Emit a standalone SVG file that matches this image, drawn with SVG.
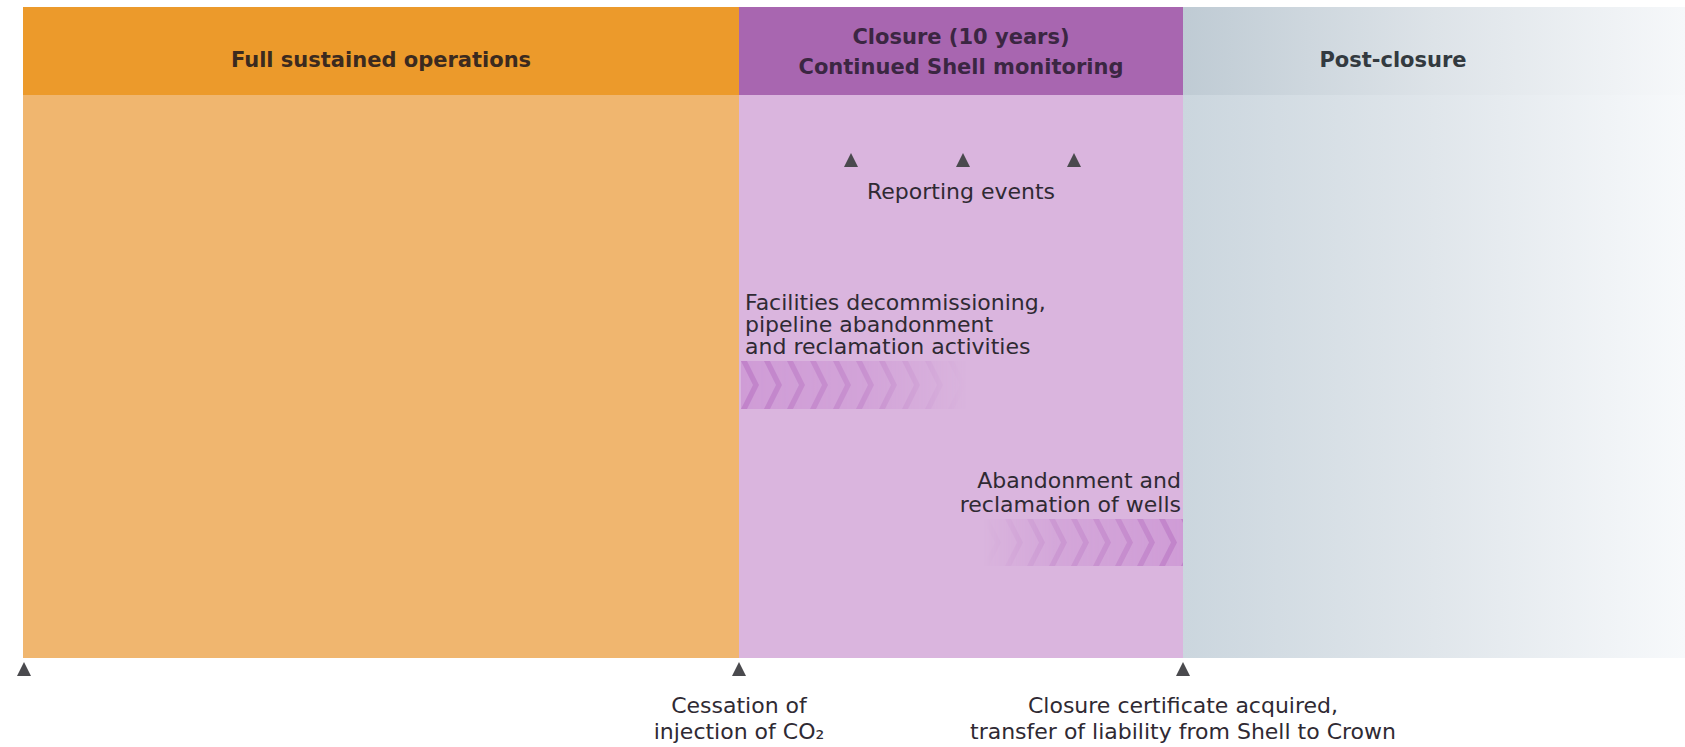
<svg xmlns="http://www.w3.org/2000/svg" width="1685" height="747" viewBox="0 0 1685 747">
  <style>
    .hdr { font-family: "DejaVu Sans", "Liberation Sans", sans-serif; font-weight: bold; font-size: 21px; text-anchor: middle; }
    .body { font-family: "DejaVu Sans", "Liberation Sans", sans-serif; font-size: 22px; fill: #2f2a33; }
    .mid { text-anchor: middle; }
    .end { text-anchor: end; }
    .tick { fill: #4a4a4e; }
  </style>
  <defs>
    <linearGradient id="postHead" x1="0" y1="0" x2="1" y2="0">
      <stop offset="0" stop-color="#bfcbd4"/>
      <stop offset="0.5" stop-color="#dde3e8"/>
      <stop offset="1" stop-color="#f6f8fa"/>
    </linearGradient>
    <linearGradient id="postBody" x1="0" y1="0" x2="1" y2="0">
      <stop offset="0" stop-color="#cbd6de"/>
      <stop offset="0.5" stop-color="#e0e6eb"/>
      <stop offset="1" stop-color="#f7f9fb"/>
    </linearGradient>
    <linearGradient id="fadeRight" x1="0" y1="0" x2="1" y2="0">
      <stop offset="0" stop-color="#fff" stop-opacity="1"/>
      <stop offset="0.55" stop-color="#fff" stop-opacity="0.7"/>
      <stop offset="1" stop-color="#fff" stop-opacity="0"/>
    </linearGradient>
    <linearGradient id="fadeLeft" x1="0" y1="0" x2="1" y2="0">
      <stop offset="0" stop-color="#fff" stop-opacity="0"/>
      <stop offset="0.35" stop-color="#fff" stop-opacity="0.55"/>
      <stop offset="1" stop-color="#fff" stop-opacity="1"/>
    </linearGradient>
    <pattern id="chevA" x="741" y="361" width="23" height="48" patternUnits="userSpaceOnUse">
      <rect width="23" height="48" fill="#cf9cd6"/>
      <polygon points="0,0 6,0 18,24 6,48 0,48 12,24" fill="#c183ca"/>
    </pattern>
    <pattern id="chevB" x="983" y="519" width="22" height="47" patternUnits="userSpaceOnUse">
      <rect width="22" height="47" fill="#cf9cd6"/>
      <polygon points="0,0 6,0 18,23.5 6,47 0,47 12,23.5" fill="#c183ca"/>
    </pattern>
    <mask id="maskA" maskUnits="userSpaceOnUse" x="741" y="361" width="226" height="48">
      <rect x="741" y="361" width="226" height="48" fill="url(#fadeRight)"/>
    </mask>
    <mask id="maskB" maskUnits="userSpaceOnUse" x="983" y="519" width="200" height="47">
      <rect x="983" y="519" width="200" height="47" fill="url(#fadeLeft)"/>
    </mask>
    <polygon id="tri" points="0,-7 7,7 -7,7"/>
  </defs>

  <rect width="1685" height="747" fill="#ffffff"/>

  <!-- Phase: full sustained operations -->
  <g id="phase-operations">
    <rect x="23" y="7" width="716" height="88" fill="#ec9a2b"/>
    <rect x="23" y="95" width="716" height="563" fill="#f0b66f"/>
    <text class="hdr" x="381" y="67" fill="#3b2a1f">Full sustained operations</text>
  </g>

  <!-- Phase: closure -->
  <g id="phase-closure">
    <rect x="739" y="7" width="444" height="88" fill="#a866b0"/>
    <rect x="739" y="95" width="444" height="563" fill="#dab5de"/>
    <text class="hdr" x="961" y="44" fill="#3b2642">Closure (10 years)</text>
    <text class="hdr" x="961" y="74" fill="#3b2642">Continued Shell monitoring</text>
  </g>

  <!-- Phase: post-closure -->
  <g id="phase-post">
    <rect x="1183" y="7" width="502" height="88" fill="url(#postHead)"/>
    <rect x="1183" y="95" width="502" height="563" fill="url(#postBody)"/>
    <text class="hdr" x="1393" y="67" fill="#333a40">Post-closure</text>
  </g>

  <!-- Reporting events -->
  <g id="reporting">
    <use href="#tri" x="851" y="160" class="tick"/>
    <use href="#tri" x="963" y="160" class="tick"/>
    <use href="#tri" x="1074" y="160" class="tick"/>
    <text class="body mid" x="961" y="199">Reporting events</text>
  </g>

  <!-- Facilities decommissioning activity -->
  <g id="activity-facilities">
    <text class="body" x="745" y="310">Facilities decommissioning,</text>
    <text class="body" x="745" y="332">pipeline abandonment</text>
    <text class="body" x="745" y="354">and reclamation activities</text>
    <rect x="741" y="361" width="226" height="48" fill="url(#chevA)" mask="url(#maskA)"/>
  </g>

  <!-- Well abandonment activity -->
  <g id="activity-wells">
    <text class="body end" x="1181" y="488">Abandonment and</text>
    <text class="body end" x="1181" y="512">reclamation of wells</text>
    <rect x="983" y="519" width="200" height="47" fill="url(#chevB)" mask="url(#maskB)"/>
  </g>

  <!-- Timeline milestones -->
  <g id="milestone-start">
    <use href="#tri" x="24" y="669" class="tick"/>
  </g>
  <g id="milestone-cessation">
    <use href="#tri" x="739" y="669" class="tick"/>
    <text class="body mid" x="739" y="713">Cessation of</text>
    <text class="body mid" x="739" y="739">injection of CO₂</text>
  </g>
  <g id="milestone-certificate">
    <use href="#tri" x="1183" y="669" class="tick"/>
    <text class="body mid" x="1183" y="713">Closure certificate acquired,</text>
    <text class="body mid" x="1183" y="739">transfer of liability from Shell to Crown</text>
  </g>

  <g id="connectors"/>
</svg>
